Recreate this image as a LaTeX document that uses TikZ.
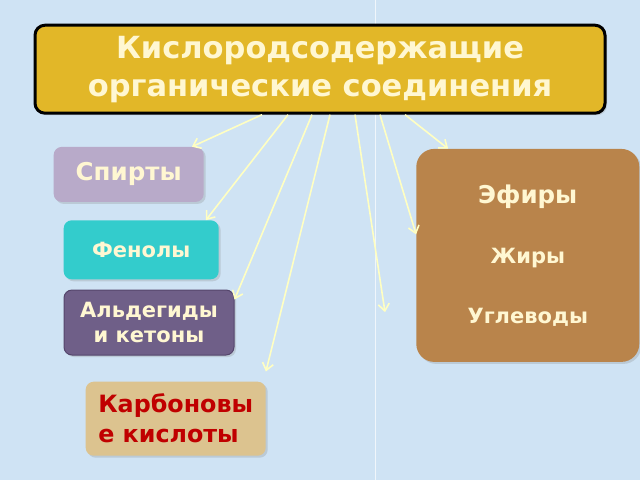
\documentclass[tikz,border=0pt]{standalone}
\usepackage{fontspec}
\setmainfont{DejaVu Sans}
\usetikzlibrary{positioning, arrows.meta, shadows}
\usepackage{xcolor}
\definecolor{bgblue}{HTML}{CFE3F4}
\definecolor{titlegold}{HTML}{E2B728}
\definecolor{cream}{HTML}{FFF7D2}
\definecolor{arrowcream}{HTML}{FFFFC2}
\definecolor{lilac}{HTML}{B8AAC9}
\definecolor{turq}{HTML}{33CCCC}
\definecolor{plum}{HTML}{6F5F88}
\definecolor{plumdark}{HTML}{55466C}
\definecolor{sand}{HTML}{DCC38F}
\definecolor{darkred}{HTML}{C00000}
\definecolor{bark}{HTML}{B9844B}

\begin{document}
\begin{tikzpicture}[x=1pt, y=-1pt, node distance=20pt]
    % Styles
    \tikzset{every node/.style={drop shadow={shadow xshift=2pt, shadow yshift=-2pt, opacity=0.25}}}
    \tikzstyle{titlebox} = [rectangle, rounded corners=10pt, minimum width=570pt, minimum height=88pt, align=center, draw=black, line width=3pt, fill=titlegold, text=cream, font=\bfseries\fontsize{30.5}{38}\selectfont]
    \tikzstyle{block} = [rectangle, rounded corners=8pt, align=center, inner sep=0pt, text=cream, font=\bfseries\fontsize{21}{25}\selectfont]
    \tikzstyle{arrow} = [line width=1.6pt, draw=arrowcream, -{Straight Barb[length=7pt, width=11pt]}]

    % Background
    \fill[bgblue] (0,0) rectangle (640,480);
    \draw[white, opacity=0.7] (375,0) -- (375,480);

    % Nodes
    \node (title) [titlebox] at (320,69) {Кислородсодержащие\\органические соединения};
    \node (spirt) [block, fill=lilac, minimum width=150pt, minimum height=55pt, font=\bfseries\fontsize{24.5}{28}\selectfont, below=32pt of title.south west, anchor=north west, xshift=20pt] {Спирты};
    \node (fenol) [block, fill=turq, minimum width=155pt, minimum height=59pt, below=18pt of spirt.south west, anchor=north west, xshift=10pt] {Фенолы};
    \node (ald) [block, fill=plum, draw=plumdark, line width=1pt, minimum width=170pt, minimum height=65pt, below=10pt of fenol.south west, anchor=north west] {Альдегиды\\и кетоны};
    \node (karb) [block, fill=sand, text=darkred, align=left, minimum width=180pt, minimum height=74pt, font=\bfseries\fontsize{23.8}{30}\selectfont, below=26pt of ald.south west, anchor=north west, xshift=22pt] {Карбоновы\\е кислоты};
    \node (efir) [block, fill=bark, rounded corners=18pt, minimum width=223pt, minimum height=213pt, font=\bfseries\fontsize{21}{60}\selectfont, below=34pt of title.south east, anchor=north east, xshift=33pt] {{\fontsize{24.5}{60}\selectfont Эфиры}\\Жиры\\Углеводы};
    \coordinate (free) at (385,312);

    % Paths
    \draw [arrow] ([xshift=-58pt]title.south) -- ([xshift=-12pt]spirt.north east);
    \draw [arrow] ([xshift=-32pt]title.south) -- ([xshift=-13pt]fenol.north east);
    \draw [arrow] ([xshift=-8pt]title.south) -- ([yshift=-10pt]ald.north east);
    \draw [arrow] ([xshift=10pt]title.south) -- ([yshift=10pt]karb.north east);
    \draw [arrow] ([xshift=35pt]title.south) -- (free);
    \draw [arrow] ([xshift=60pt]title.south) -- ([yshift=21pt]efir.west);
    \draw [arrow] ([xshift=85pt]title.south) -- ([xshift=32pt]efir.north west);

\end{tikzpicture}
\end{document}
